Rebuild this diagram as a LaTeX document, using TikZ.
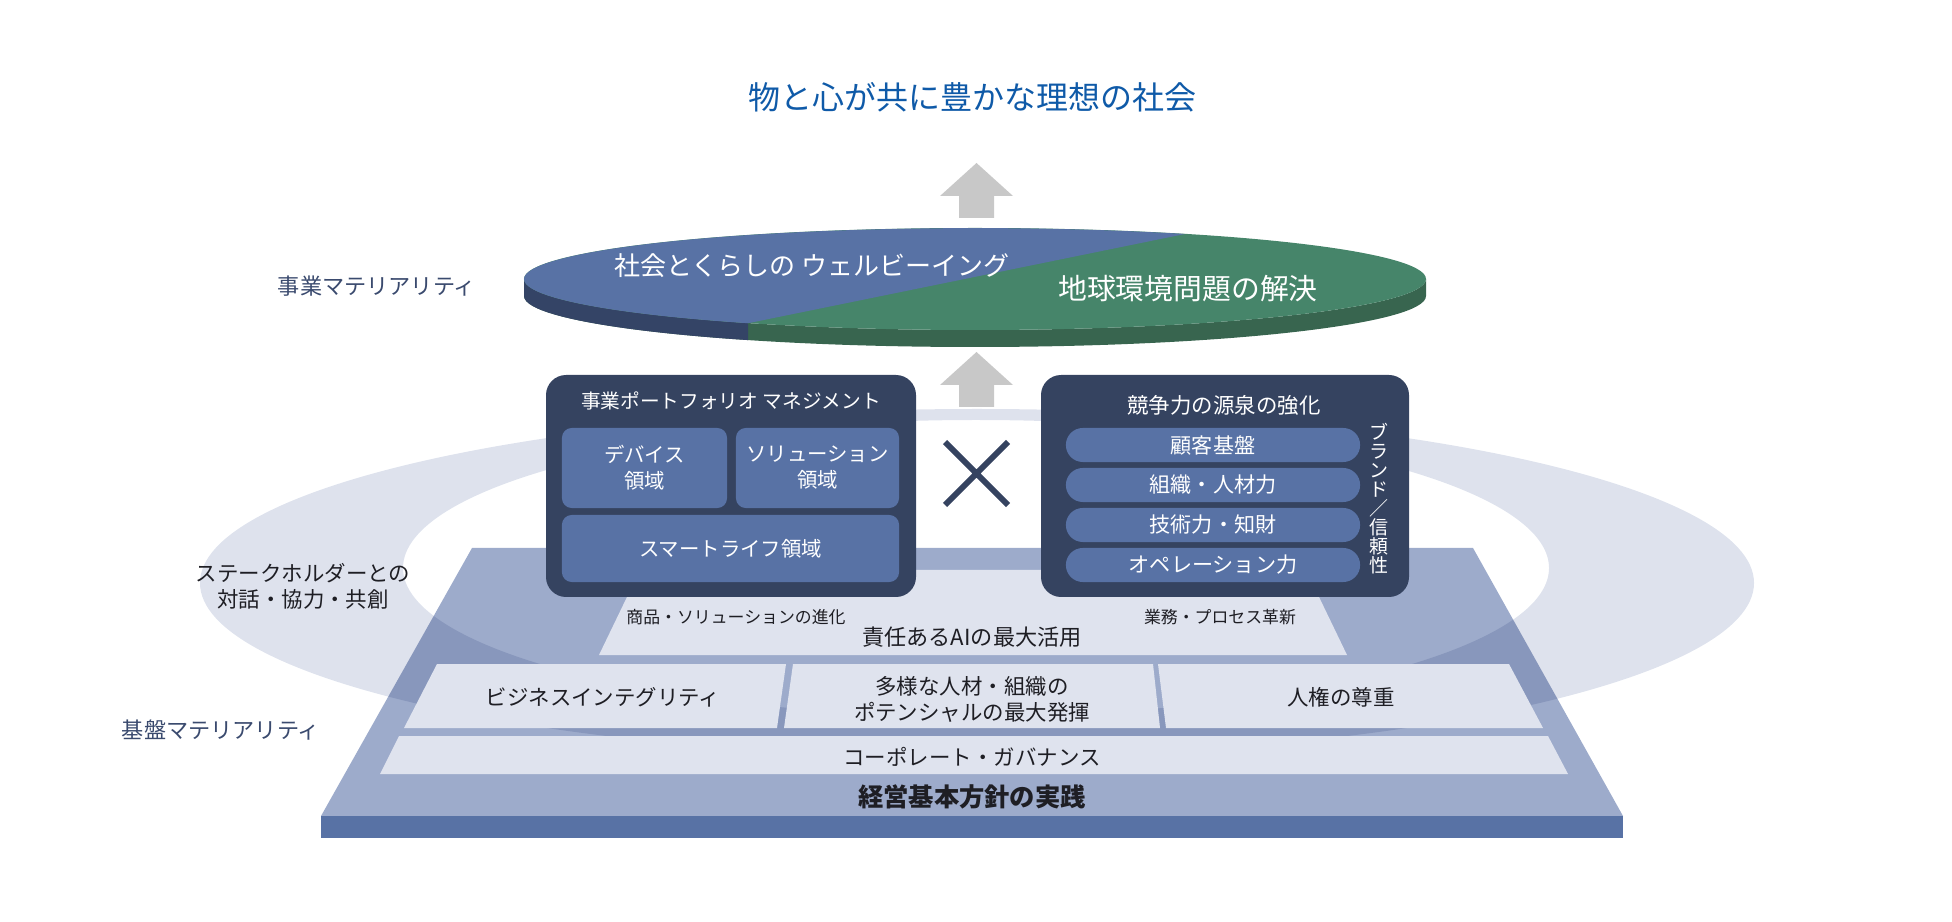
\documentclass[tikz,border=0pt]{standalone}
\usepackage{fontspec}
\setmainfont{Noto Sans CJK JP}
\definecolor{navy}{HTML}{354360}
\definecolor{midblue}{HTML}{5872A5}
\definecolor{pyr}{HTML}{9DABCB}
\definecolor{pale}{HTML}{DFE3EE}
\definecolor{ringc}{HTML}{DEE2ED}
\definecolor{diskgreen}{HTML}{46856A}
\definecolor{diskgreendk}{HTML}{38654F}
\definecolor{diskbluedk}{HTML}{344466}
\definecolor{arrowgray}{HTML}{C8C8C8}
\definecolor{titleblue}{HTML}{0F5AA8}
\definecolor{labelnavy}{HTML}{3A4A6E}
\definecolor{ink}{HTML}{1E1E24}

\begin{document}
\begin{tikzpicture}[x=0.01cm, y=-0.01cm, line join=round,
	mat/.style={text=labelnavy, font=\fontsize{6.3}{7.4}\selectfont},
	ptxt/.style={text=ink, align=center, font=\fontsize{6.1}{7.4}\selectfont},
	small/.style={text=ink, font=\fontsize{4.8}{6}\selectfont},
	boxtitle/.style={text=white, font=\fontsize{5.6}{7}\selectfont},
	inbox/.style={fill=midblue, rounded corners=2.8pt, text=white, align=center, inner sep=0pt, font=\fontsize{5.8}{7.4}\selectfont},
	pill/.style={fill=midblue, rounded corners=4.8pt, minimum width=2.94cm, minimum height=0.34cm, inner sep=0pt, text=white, font=\fontsize{6}{7}\selectfont}]
	\useasboundingbox (0,0) rectangle (1952,922);
	% base of the pyramid
	\fill[pyr] (472,548) -- (1473,548) -- (1623,816) -- (321,816) -- cycle;
	\fill[midblue] (321,816) rectangle (1623,838);
	% stakeholder ring
	\begin{scope}[blend mode=multiply]
		\fill[ringc, even odd rule] (977,583) ellipse [x radius=777, y radius=174] (976,568) ellipse [x radius=573, y radius=148];
	\end{scope}
	% panels
	\fill[pale] (640,570) -- (1306,570) -- (1347,655) -- (599,655) -- cycle;
	\fill[pale] (437,664) -- (786,664) -- (777,728) -- (404,728) -- cycle;
	\fill[pale] (793,664) -- (1153,664) -- (1160,728) -- (784,728) -- cycle;
	\fill[pale] (1158,664) -- (1509,664) -- (1543,728) -- (1166,728) -- cycle;
	\fill[pale] (399,736) -- (1548,736) -- (1568,774) -- (380,774) -- cycle;
	% disk
	\fill[diskgreendk] (524,279) -- (524,296) arc[start angle=180, end angle=0, x radius=451, y radius=51] -- (1426,279) arc[start angle=0, end angle=180, x radius=451, y radius=51] -- cycle;
	\begin{scope}
		\clip (500,260) rectangle (748,360);
		\fill[diskbluedk] (524,279) -- (524,296) arc[start angle=180, end angle=0, x radius=451, y radius=51] -- (1426,279) arc[start angle=0, end angle=180, x radius=451, y radius=51] -- cycle;
	\end{scope}
	\fill[diskgreen] (975,279) ellipse [x radius=451, y radius=51];
	\fill[midblue] (1185,234) arc[start angle=-62.25, end angle=-239.8, x radius=451, y radius=51] -- cycle;
	% arrows
	\foreach \t in {163,352}
		\fill[arrowgray] (976.5,\t) -- (1013,\t+33) -- (994,\t+33) -- (994,\t+55) -- (959,\t+55) -- (959,\t+33) -- (940,\t+33) -- cycle;
	% two boxes
	\fill[navy, rounded corners=5.7pt] (546,375) rectangle (916,597);
	\fill[navy, rounded corners=5.7pt] (1041,375) rectangle (1409,597);
	\draw[navy, line width=1.7pt] (945,442) -- (1008,505) (1008,442) -- (945,505);
	\node[boxtitle] (pfTitle) at (731,401) {事業ポートフォリオ マネジメント};
	\node[inbox, minimum width=1.65cm, minimum height=0.8cm] (dev) at (644.5,468) {デバイス\\領域};
	\node[inbox, minimum width=1.63cm, minimum height=0.8cm] (sol) at (817.5,468) {ソリューション\\領域};
	\node[inbox, minimum width=3.37cm, minimum height=0.67cm] (smart) at (730.5,548.5) {スマートライフ領域};
	\node[boxtitle, font=\fontsize{6.1}{7}\selectfont] (csTitle) at (1224,405) {競争力の源泉の強化};
	\foreach \y/\l [count=\i] in {445/顧客基盤, 485/組織・人材力, 525/技術力・知財, 565/オペレーション力}
		\node[pill] (src\i) at (1213,\y) {\l};
	\node[text=white, align=center, inner sep=0pt, font=\fontsize{5.4}{5.4}\selectfont] (brand) at (1379,499) {ブ\\ラ\\ン\\ド\\／\\信\\頼\\性};
	% texts
	\node[text=titleblue, font=\fontsize{9.1}{11}\selectfont] (goal) at (972,97) {物と心が共に豊かな理想の社会};
	\node[text=white, font=\fontsize{7.4}{9}\selectfont] (wb) at (812,266) {社会とくらしの ウェルビーイング};
	\node[text=white, font=\fontsize{8.2}{9}\selectfont] (env) at (1188,289) {地球環境問題の解決};
	\node[mat] (bizMat) at (377,286) {事業マテリアリティ};
	\node[mat] (baseMat) at (221,730) {基盤マテリアリティ};
	\node[ptxt] (stake) at (303,586) {ステークホルダーとの\\対話・協力・共創};
	\node[small] (evo) at (736,617) {商品・ソリューションの進化};
	\node[small] (ops) at (1220,617) {業務・プロセス革新};
	\node[ptxt, font=\fontsize{6.3}{7.4}\selectfont] (ai) at (972,637) {責任あるAIの最大活用};
	\node[ptxt] (integ) at (603,697) {ビジネスインテグリティ};
	\node[ptxt] (talent) at (972,699) {多様な人材・組織の\\ポテンシャルの最大発揮};
	\node[ptxt] (rights) at (1341,697) {人権の尊重};
	\node[ptxt] (gov) at (972,757) {コーポレート・ガバナンス};
	\node[ptxt, font=\bfseries\fontsize{7.2}{8}\selectfont] (policy) at (972,797) {経営基本方針の実践};
\end{tikzpicture}
\end{document}
